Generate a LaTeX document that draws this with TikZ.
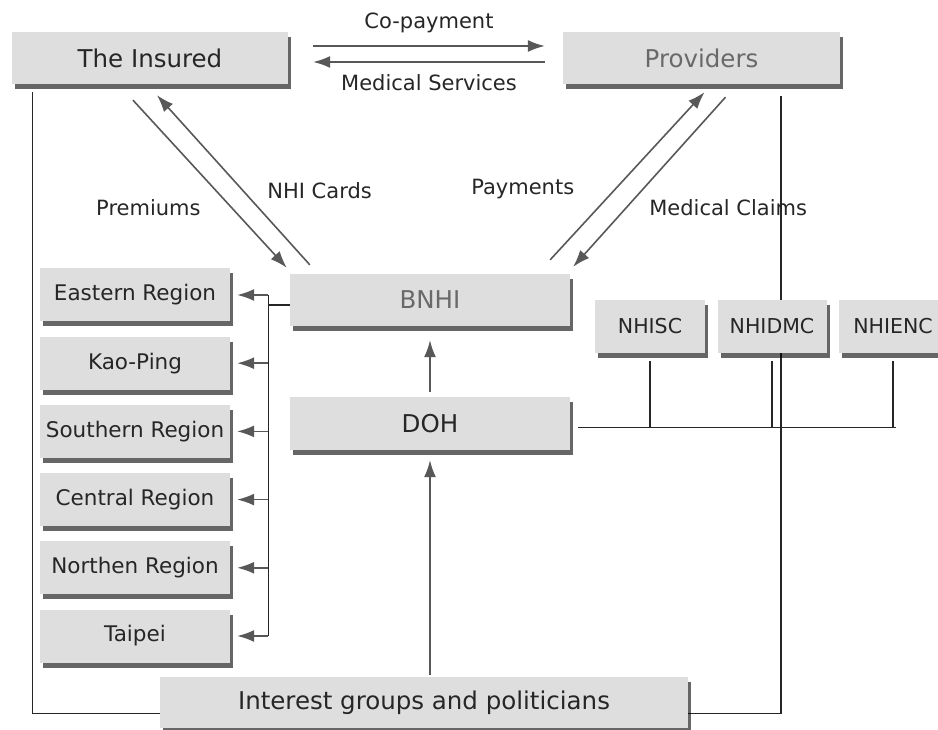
\documentclass[tikz,border=0pt]{standalone}
\usepackage{fontspec}
\setmainfont{DejaVu Sans}
\usetikzlibrary{arrows.meta, positioning, calc, backgrounds, shadows}
\definecolor{boxgray}{RGB}{222,222,222}
\definecolor{arrowgray}{RGB}{88,88,88}
\definecolor{softtext}{RGB}{105,105,105}

\begin{document}
\begin{tikzpicture}[
    x=1pt, y=-1pt,
    node distance=14.8pt,
    box/.style={rectangle, fill=boxgray, inner sep=0pt, text=black!85,
        font=\fontsize{24.5}{28}\selectfont,
        drop shadow={shadow xshift=3pt, shadow yshift=-5pt, fill=black, opacity=.6}},
    regbox/.style={box, minimum width=190pt, minimum height=53pt, font=\fontsize{21.5}{25}\selectfont},
    nhibox/.style={box, minimum width=109pt, minimum height=53pt, font=\fontsize{20.5}{24}\selectfont},
    lbl/.style={font=\fontsize{21}{25}\selectfont, text=black!85, inner sep=0pt},
    flow/.style={draw=arrowgray, line width=1.6pt, -{Latex[length=17pt,width=12pt]}},
    link/.style={draw=black!85, line width=1.3pt}
]
\useasboundingbox (0,0) rectangle (938,730);

% Cajas
\node[box, minimum width=276pt, minimum height=52pt] (ins) at (150,58) {The Insured};
\node[box, minimum width=277pt, minimum height=52pt, text=softtext] (prov) at (701.5,58) {Providers};
\node[box, minimum width=280pt, minimum height=52pt, text=softtext] (bnhi) at (430,300) {BNHI};
\node[box, minimum width=280pt, minimum height=53pt] (doh) at (430,423.5) {DOH};
\node[box, minimum width=528pt, minimum height=51pt] (ig) at (424,702.5) {Interest groups and politicians};

\node[regbox] (reast) at (135,295) {Eastern Region};
\node[regbox, below=of reast] (rkao) {Kao-Ping};
\node[regbox, below=of rkao] (rsouth) {Southern Region};
\node[regbox, below=of rsouth] (rcentral) {Central Region};
\node[regbox, below=of rcentral] (rnorth) {Northen Region};
\node[regbox, below=of rnorth] (rtaipei) {Taipei};

\node[nhibox, minimum width=110pt] (nhisc) at (650,326.5) {NHISC};
\node[nhibox] (nhidmc) at (772,326.5) {NHIDMC};
\node[nhibox] (nhienc) at (893,326.5) {NHIENC};

% Flechas
\draw[flow] ($(ins.east)+(25,-12)$) -- node[lbl, above=12pt] {Co-payment} ($(prov.west)+(-18,-12)$);
\draw[flow] ($(prov.west)+(-18,4)$) -- node[lbl, below=12pt] {Medical Services} ($(ins.east)+(25,4)$);
\draw[flow] ($(ins.south)+(-17,16)$) -- node[lbl, pos=.64, left=30pt] {Premiums} ($(bnhi.north west)+(-3,-6)$);
\draw[flow] ($(bnhi.north west)+(20,-9)$) -- node[lbl, pos=.44, right=24pt] {NHI Cards} ($(ins.south)+(7,11)$);
\draw[flow] ($(bnhi.north east)+(-20,-14)$) -- node[lbl, pos=.42, left=40pt] {Payments} ($(prov.south)+(3,8)$);
\draw[flow] ($(prov.south)+(24,13)$) -- node[lbl, pos=.65, right=22pt] {Medical Claims} ($(bnhi.north east)+(3,-7)$);
\draw[flow] ($(doh.north)+(0,-5)$) -- ($(bnhi.south)+(0,14)$);
\draw[flow] ($(doh.south |- ig.north)+(0,-2)$) -- ($(doh.south)+(0,10)$);

% Regiones
\coordinate (bus) at ($(reast.east)+(38,0)$);
\coordinate (bn) at ($(bnhi.west)+(0,5)$);
\draw[link] (bus) -- (bus |- rtaipei.east);
\draw[link] (bn) -- (bn -| bus);
\foreach \r in {reast,rkao,rsouth,rcentral,rnorth,rtaipei}
    \draw[flow] (bus |- \r.east) -- ($(\r.east)+(7,0)$);

% Centros
\coordinate (hb) at ($(doh.east)+(8,4)$);
\draw[link] (hb) -- ($(hb -| nhienc.south)+(3,0)$);
\foreach \n in {nhisc,nhidmc,nhienc}
    \draw[link] ($(\n.south)+(0,8)$) -- (\n.south |- hb);

\begin{scope}[on background layer]
\draw[link] ($(ins.south west)+(21,8)$) |- ($(ig.west)+(0,11)$);
\draw[link] ($(prov.south)+(79.5,12)$) |- ($(ig.east)+(0,11)$);
\end{scope}

\end{tikzpicture}
\end{document}
